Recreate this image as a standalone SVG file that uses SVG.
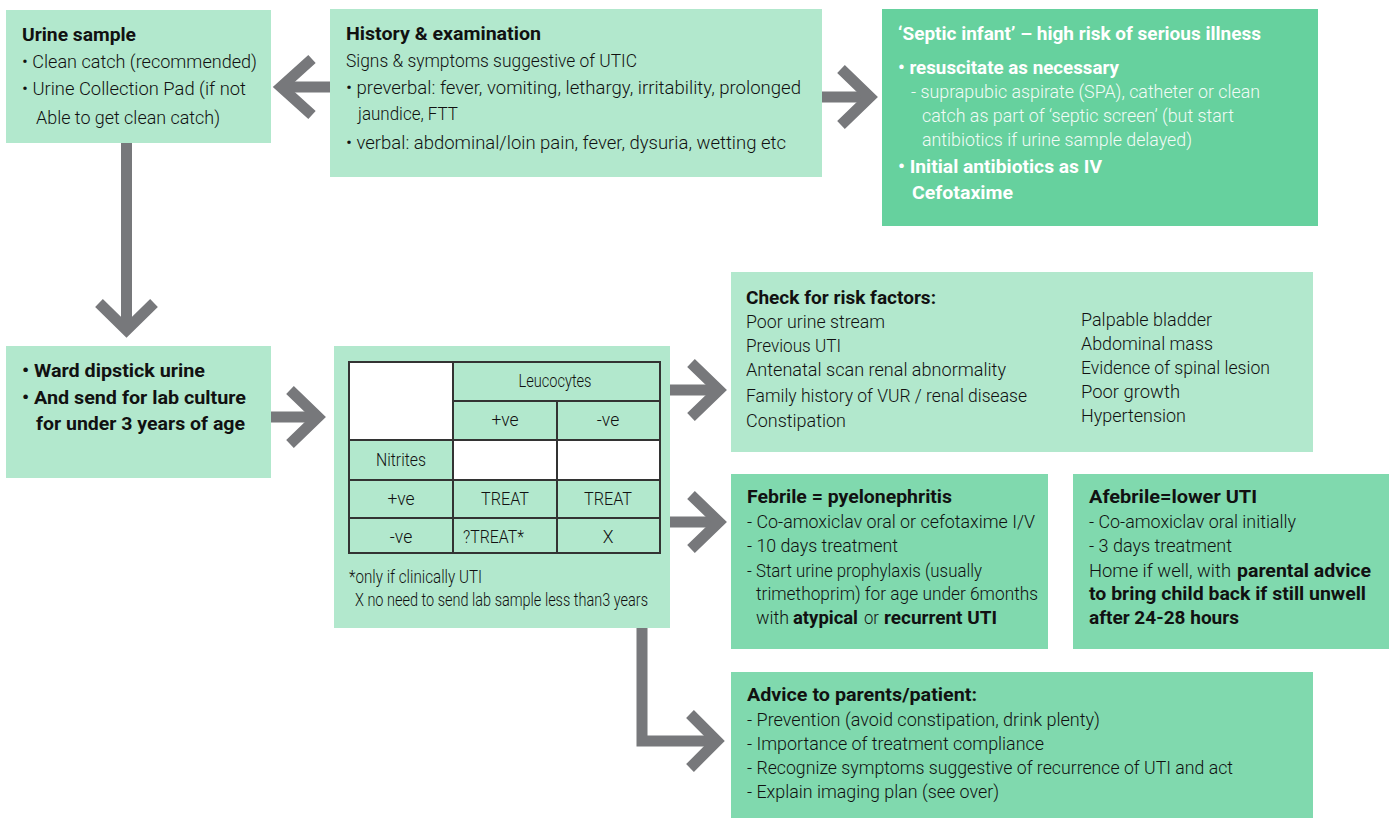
<svg xmlns="http://www.w3.org/2000/svg" width="1396" height="819" viewBox="0 0 1396 819">
<style>
.light{fill:#b2e8cd}
.dark{fill:#66d19e}
.mid{fill:#80d9ae}
text{font-family:Roboto,"Liberation Sans",sans-serif;font-size:17.5px;font-weight:300;fill:#111}
.b{font-weight:700}
.w{fill:#ffffff}
.wl{fill:#f2fbf6}
.c{text-anchor:middle}
.arr{fill:none;stroke:#77787b;stroke-width:11;stroke-linejoin:miter;stroke-miterlimit:10}
.tb{fill:none;stroke:#333333;stroke-width:2}
</style>
<rect width="1396" height="819" fill="#ffffff"/>

<g id="urine-sample">
<rect class="light" x="6" y="10" width="265" height="133"/>
<text class="b" x="22" y="41" textLength="114" lengthAdjust="spacingAndGlyphs">Urine sample</text>
<text x="22" y="68" textLength="235" lengthAdjust="spacingAndGlyphs">• Clean catch (recommended)</text>
<text x="22" y="95" textLength="224" lengthAdjust="spacingAndGlyphs">• Urine Collection Pad (if not</text>
<text x="36" y="124" textLength="184" lengthAdjust="spacingAndGlyphs">Able to get clean catch)</text>
</g>

<g id="history">
<rect class="light" x="330" y="9" width="492" height="168"/>
<text class="b" x="346" y="40" textLength="195" lengthAdjust="spacingAndGlyphs">History &amp; examination</text>
<text x="346" y="67" textLength="291" lengthAdjust="spacingAndGlyphs">Signs &amp; symptoms suggestive of UTIC</text>
<text x="346" y="94" textLength="455" lengthAdjust="spacingAndGlyphs">• preverbal: fever, vomiting, lethargy, irritability, prolonged</text>
<text x="358" y="120" textLength="100" lengthAdjust="spacingAndGlyphs">jaundice, FTT</text>
<text x="346" y="149" textLength="440" lengthAdjust="spacingAndGlyphs">• verbal:  abdominal/loin pain, fever, dysuria, wetting etc</text>
</g>

<g id="septic-infant">
<rect class="dark" x="882" y="9" width="436" height="217"/>
<text class="b w" x="898" y="40" textLength="363" lengthAdjust="spacingAndGlyphs">‘Septic infant’ – high risk of serious illness</text>
<text class="b w" x="898" y="74" textLength="221" lengthAdjust="spacingAndGlyphs">• resuscitate as necessary</text>
<text class="wl" x="911" y="98" textLength="349" lengthAdjust="spacingAndGlyphs">- suprapubic aspirate (SPA), catheter or clean</text>
<text class="wl" x="922" y="122" textLength="312" lengthAdjust="spacingAndGlyphs">catch as part of ‘septic screen’ (but start</text>
<text class="wl" x="922" y="146" textLength="270" lengthAdjust="spacingAndGlyphs">antibiotics if urine sample delayed)</text>
<text class="b w" x="898" y="173" textLength="204" lengthAdjust="spacingAndGlyphs">• Initial antibiotics as IV</text>
<text class="b w" x="912" y="199" textLength="101" lengthAdjust="spacingAndGlyphs">Cefotaxime</text>
</g>

<g id="ward-dipstick">
<rect class="light" x="6" y="346" width="265" height="132"/>
<text class="b" x="22" y="377" textLength="183" lengthAdjust="spacingAndGlyphs">• Ward dipstick urine</text>
<text class="b" x="22" y="404" textLength="224" lengthAdjust="spacingAndGlyphs">• And send for lab culture</text>
<text class="b" x="36" y="430" textLength="209" lengthAdjust="spacingAndGlyphs">for under 3 years of age</text>
</g>

<g id="dipstick-table">
<rect class="light" x="334" y="346" width="336" height="282"/>
<rect x="349" y="362" width="104" height="78" fill="#ffffff"/>
<rect x="453" y="440" width="207" height="40" fill="#ffffff"/>
<rect class="tb" x="349" y="362" width="311" height="191"/>
<line class="tb" x1="453" y1="401" x2="660" y2="401"/>
<line class="tb" x1="349" y1="440" x2="660" y2="440"/>
<line class="tb" x1="349" y1="480" x2="660" y2="480"/>
<line class="tb" x1="349" y1="518" x2="660" y2="518"/>
<line class="tb" x1="453" y1="362" x2="453" y2="553"/>
<line class="tb" x1="557" y1="401" x2="557" y2="553"/>
<text class="c" x="555" y="387" textLength="73" lengthAdjust="spacingAndGlyphs">Leucocytes</text>
<text class="c" x="505" y="426">+ve</text>
<text class="c" x="608" y="426">-ve</text>
<text class="c" x="401" y="466" textLength="50" lengthAdjust="spacingAndGlyphs">Nitrites</text>
<text class="c" x="401" y="505">+ve</text>
<text class="c" x="505" y="505" textLength="48" lengthAdjust="spacingAndGlyphs">TREAT</text>
<text class="c" x="608" y="505" textLength="48" lengthAdjust="spacingAndGlyphs">TREAT</text>
<text class="c" x="401" y="543">-ve</text>
<text x="463" y="543" textLength="61" lengthAdjust="spacingAndGlyphs">?TREAT*</text>
<text class="c" x="608" y="543">X</text>
<text x="349" y="583" textLength="133" lengthAdjust="spacingAndGlyphs">*only if clinically UTI</text>
<text x="355" y="606" textLength="293" lengthAdjust="spacingAndGlyphs">X no need to send lab sample less than3 years</text>
</g>

<g id="risk-factors">
<rect class="light" x="731" y="272" width="582" height="180"/>
<text class="b" x="746" y="304" textLength="190" lengthAdjust="spacingAndGlyphs">Check for risk factors:</text>
<text x="746" y="328" textLength="139" lengthAdjust="spacingAndGlyphs">Poor urine stream</text>
<text x="746" y="352" textLength="95" lengthAdjust="spacingAndGlyphs">Previous UTI</text>
<text x="746" y="376" textLength="260" lengthAdjust="spacingAndGlyphs">Antenatal scan renal abnormality</text>
<text x="746" y="402" textLength="281" lengthAdjust="spacingAndGlyphs">Family history of VUR / renal disease</text>
<text x="746" y="427" textLength="100" lengthAdjust="spacingAndGlyphs">Constipation</text>
<text x="1081" y="326" textLength="131" lengthAdjust="spacingAndGlyphs">Palpable bladder</text>
<text x="1081" y="350" textLength="132" lengthAdjust="spacingAndGlyphs">Abdominal mass</text>
<text x="1081" y="374" textLength="189" lengthAdjust="spacingAndGlyphs">Evidence of spinal lesion</text>
<text x="1081" y="398" textLength="99" lengthAdjust="spacingAndGlyphs">Poor growth</text>
<text x="1081" y="422" textLength="105" lengthAdjust="spacingAndGlyphs">Hypertension</text>
</g>

<g id="febrile">
<rect class="mid" x="731" y="474" width="317" height="175"/>
<text class="b" x="747" y="503" textLength="205" lengthAdjust="spacingAndGlyphs">Febrile = pyelonephritis</text>
<text x="747" y="528" textLength="288" lengthAdjust="spacingAndGlyphs">- Co-amoxiclav oral or cefotaxime I/V</text>
<text x="747" y="552" textLength="151" lengthAdjust="spacingAndGlyphs">- 10 days treatment</text>
<text x="747" y="577" textLength="235" lengthAdjust="spacingAndGlyphs">- Start urine prophylaxis (usually</text>
<text x="756" y="600" textLength="282" lengthAdjust="spacingAndGlyphs">trimethoprim) for age under 6months</text>
<text x="756" y="624" textLength="33" lengthAdjust="spacingAndGlyphs">with</text>
<text class="b" x="793" y="624" textLength="65" lengthAdjust="spacingAndGlyphs">atypical</text>
<text x="864" y="624" textLength="15" lengthAdjust="spacingAndGlyphs">or</text>
<text class="b" x="884" y="624" textLength="113" lengthAdjust="spacingAndGlyphs">recurrent UTI</text>
</g>

<g id="afebrile">
<rect class="mid" x="1073" y="474" width="316" height="175"/>
<text class="b" x="1089" y="503" textLength="168" lengthAdjust="spacingAndGlyphs">Afebrile=lower UTI</text>
<text x="1089" y="528" textLength="207" lengthAdjust="spacingAndGlyphs">- Co-amoxiclav oral initially</text>
<text x="1089" y="552" textLength="143" lengthAdjust="spacingAndGlyphs">- 3 days treatment</text>
<text x="1089" y="577" textLength="142" lengthAdjust="spacingAndGlyphs">Home if well, with</text>
<text class="b" x="1237" y="577" textLength="134" lengthAdjust="spacingAndGlyphs">parental advice</text>
<text class="b" x="1089" y="600" textLength="277" lengthAdjust="spacingAndGlyphs">to bring child back if still unwell</text>
<text class="b" x="1089" y="624" textLength="150" lengthAdjust="spacingAndGlyphs">after 24-28 hours</text>
</g>

<g id="advice">
<rect class="mid" x="731" y="672" width="582" height="146"/>
<text class="b" x="747" y="701" textLength="230" lengthAdjust="spacingAndGlyphs">Advice to parents/patient:</text>
<text x="747" y="726" textLength="353" lengthAdjust="spacingAndGlyphs">- Prevention (avoid constipation, drink plenty)</text>
<text x="747" y="750" textLength="297" lengthAdjust="spacingAndGlyphs">- Importance of treatment compliance</text>
<text x="747" y="774" textLength="486" lengthAdjust="spacingAndGlyphs">- Recognize symptoms suggestive of recurrence of UTI and act</text>
<text x="747" y="798" textLength="252" lengthAdjust="spacingAndGlyphs">- Explain imaging plan (see over)</text>
</g>

<g id="connectors">
<line class="arr" x1="330" y1="87" x2="284" y2="87"/>
<polyline class="arr" points="312,59 281,87 312,115"/>
<line class="arr" x1="822" y1="97" x2="866" y2="97"/>
<polyline class="arr" points="841,69 870,97 841,125"/>
<line class="arr" x1="126.5" y1="143" x2="126.5" y2="326"/>
<polyline class="arr" points="99,303 126.5,330 154,303"/>
<line class="arr" x1="271" y1="417" x2="314" y2="417"/>
<polyline class="arr" points="290,390 318,417 290,444"/>
<line class="arr" x1="670" y1="390" x2="715" y2="390"/>
<polyline class="arr" points="691,363 719,390 691,417"/>
<line class="arr" x1="670" y1="522" x2="715" y2="522"/>
<polyline class="arr" points="691,495 719,522 691,549"/>
<polyline class="arr" points="642,628 642,741 713,741"/>
<polyline class="arr" points="690,714 717,741 690,768"/>
</g>
</svg>
